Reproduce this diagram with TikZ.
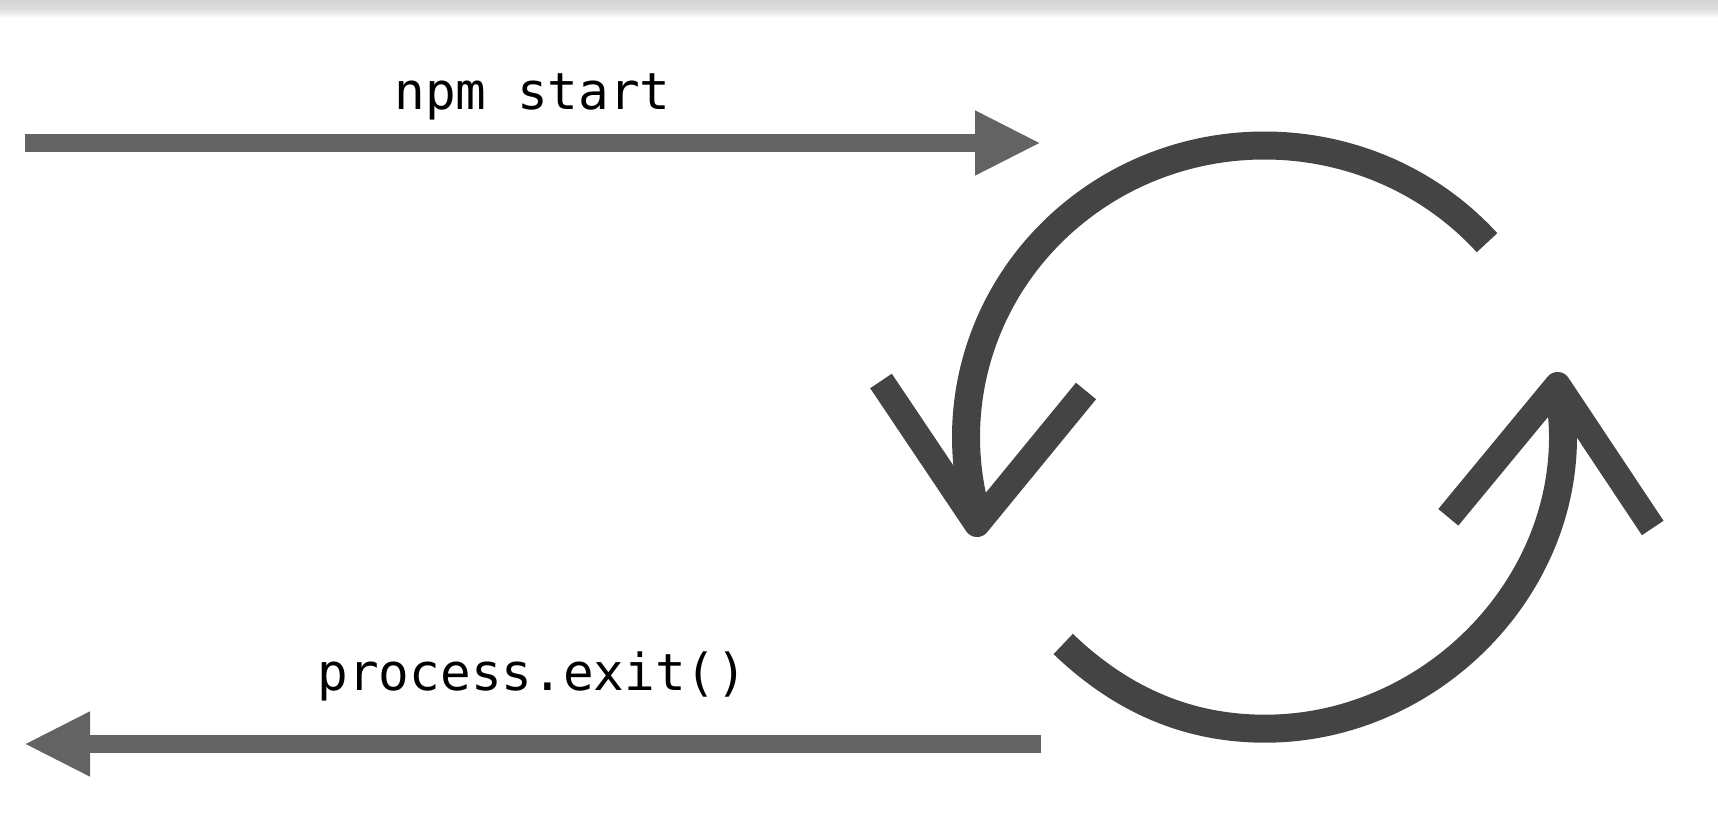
\documentclass[tikz,border=0pt]{standalone}
\usepackage{fontspec}
\setmonofont{DejaVu Sans Mono}
\usetikzlibrary{arrows.meta}
\definecolor{arrowgray}{HTML}{636363}
\definecolor{icongray}{HTML}{444444}
\definecolor{bandgray}{HTML}{D4D4D4}
\definecolor{bandmid}{HTML}{DEDEDE}
\tikzset{
  flowarrow/.style={draw=arrowgray,line width=8.8pt,-{Triangle[length=33pt,width=30pt,fill=arrowgray]}},
  iconline/.style={draw=icongray,line width=13pt,line cap=butt,line join=round},
  iconarc/.style={iconline,line width=14pt},
  codelabel/.style={font=\ttfamily\fontsize{25.5pt}{30pt}\selectfont,anchor=base,inner sep=0pt,text=black}
}
\begin{document}
\begin{tikzpicture}[x=0.5pt,y=-0.5pt]
\useasboundingbox (0,0) rectangle (1718,838);
\fill[white] (0,0) rectangle (1718,838);
\shade[top color=bandgray,bottom color=bandmid] (0,0) rectangle (1718,9);
\shade[top color=bandmid,bottom color=white] (0,9) rectangle (1718,18);
% coordinates
\coordinate (startL) at (25,143);
\coordinate (startR) at (1041,143);
\coordinate (exitR) at (1041,744);
\coordinate (exitL) at (24,744);
\coordinate (tipA) at (977,524);
\coordinate (armA1) at (881,381);
\coordinate (armA2) at (1086,391);
\coordinate (tipB) at (1557.6,385);
\coordinate (armB1) at (1448.3,517.3);
\coordinate (armB2) at (1652.7,528);
\coordinate (centre) at (1264.5,437);
\coordinate (lowStart) at (1063.2,644);
\coordinate (lowBottom) at (1265,728.7);
\coordinate (lowRight) at (1563,437);
% straight arrows
\draw[flowarrow] (startL) -- (startR);
\draw[flowarrow] (exitR) -- (exitL);
% labels
\node[codelabel] (npm) at (532.5,110) {npm start};
\node[codelabel] (exit) at (532.5,690) {process.exit()};
% cycle icon
\draw[iconarc] (centre) ++(41.8:298.5 and -291.5) arc[start angle=-41.8,end angle=-197.4,x radius=298.5,y radius=291.5];
\draw[iconarc] (lowStart) .. controls (1120,698.5) and (1186,728.7) .. (lowBottom)
  .. controls (1426,728.7) and (1563,594.5) .. (lowRight)
  .. controls (1563,420) and (1561,402) .. (tipB);
\draw[iconline] (armA1) -- (tipA) -- (armA2);
\draw[iconline] (armB1) -- (tipB) -- (armB2);
\end{tikzpicture}
\end{document}
